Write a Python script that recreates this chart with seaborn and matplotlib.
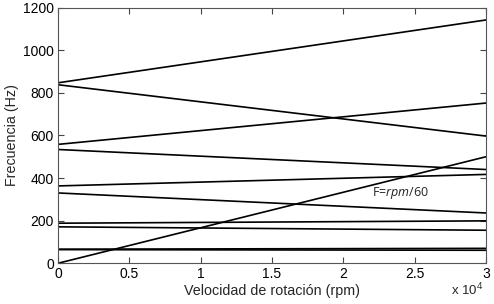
import matplotlib
matplotlib.use("Agg")
import matplotlib.pyplot as plt
import seaborn as sns
import pandas as pd

rpm_range = [0, 30000]
mode_start = [847, 838, 558, 534, 363, 330, 188, 171, 66, 64, 0]
mode_end = [1142, 597, 752, 440, 417, 236, 199, 155, 70, 61, 500]
annotation = r"F=$\mathit{rpm/60}$"

rows = []
for i, (a, b) in enumerate(zip(mode_start, mode_end)):
    rows.append({"mode": i, "rpm": rpm_range[0], "freq": a})
    rows.append({"mode": i, "rpm": rpm_range[1], "freq": b})
df = pd.DataFrame(rows)

sns.set_theme(style="ticks")
plt.rcParams['font.family'] = ['Liberation Sans', 'DejaVu Sans']
plt.rcParams['mathtext.fontset'] = 'custom'
plt.rcParams['mathtext.it'] = 'Open Sans:italic'
plt.rcParams['mathtext.rm'] = 'Open Sans'

fig = plt.figure(figsize=(4.94, 3.04), dpi=100)
ax = fig.add_axes([0.1174, 0.134, 0.8664, 0.841])
sns.lineplot(data=df, x="rpm", y="freq", units="mode", estimator=None,
             color="black", linewidth=1.2, ax=ax, legend=False)

ax.set_xlim(0, 30000)
ax.set_ylim(0, 1200)
ax.set_xticks([0, 5000, 10000, 15000, 20000, 25000, 30000])
ax.set_xticklabels(["0", "0.5", "1", "1.5", "2", "2.5", "3"])
ax.set_yticks([0, 200, 400, 600, 800, 1000, 1200])
ax.tick_params(axis="both", which="major", direction="in", length=4, width=0.8,
               top=True, right=True, bottom=True, left=True,
               labelsize=10, labelcolor="black", color="#444444", pad=3)
for s in ax.spines.values():
    s.set_visible(True)
    s.set_color("#555555")
    s.set_linewidth(0.8)
ax.set_xlabel("Velocidad de rotación (rpm)", fontsize=10.3, labelpad=2)
ax.set_ylabel("Frecuencia (Hz)", fontsize=10.3, labelpad=3)
fig.text(0.912, 0.02, r"x 10$^{4}$", fontsize=9.5, ha="left", va="bottom",
         family="Liberation Sans")

ax.text(22000, 328, annotation, fontsize=9, ha="left", va="center",
        family=["Open Sans", "DejaVu Sans"], color="#222222")

fig.savefig("out.png", dpi=100)
